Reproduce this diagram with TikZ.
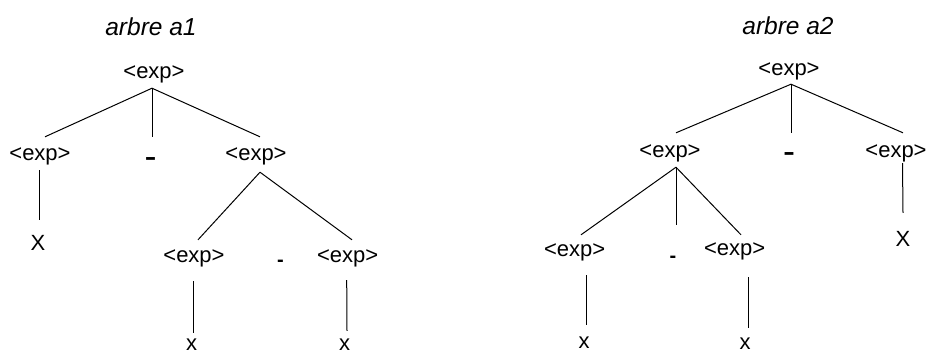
\documentclass[tikz,border=0pt]{standalone}
\usepackage{fontspec}
\setmainfont{Liberation Sans}
\begin{document}
\begin{tikzpicture}[x=1pt,y=-1pt,
  lbl/.style={inner sep=0pt,anchor=base,font=\fontsize{22}{26}\selectfont},
  box/.style 2 args={lbl,text height=#1pt,text depth=#2pt},
  bigdash/.style={inner sep=0pt,anchor=base,text depth=0pt,font=\fontsize{36}{40}\selectfont,text height=#1pt},
  smalldash/.style={inner sep=0pt,anchor=base,font=\fontsize{20}{24}\selectfont\bfseries,text height=#1pt},
  ttl/.style={inner sep=0pt,anchor=base,font=\fontsize{24.5}{28}\selectfont\itshape},
  edge/.style={line width=1pt}]
\useasboundingbox (0,0) rectangle (926,354);
% ---------- arbre a1 ----------
\node[ttl] (t1) at (151,35) {arbre a1};
\node[box={13}{10}] (r1) at (154,78) {<exp>};
\node[box={23.5}{9.5}] (l1) at (40,160.5) {<exp>};
\node[bigdash=31.8] (d1) at (150.5,168.8) {-};
\node[box={23.5}{11.5}] (m1) at (256,160.5) {<exp>};
\node[box={30}{0}] (X1) at (38,250) {X};
\node[box={22.5}{18.5}] (ll1) at (194,262.5) {<exp>};
\node[smalldash=10] (e1) at (280.5,266.2) {-};
\node[box={22.5}{17.5}] (rr1) at (347.7,262.5) {<exp>};
\node[box={17}{0}] (x1a) at (191.7,350) {x};
\node[box={19}{0}] (x1b) at (344.7,350) {x};
\draw[edge] ([xshift=-2pt]r1.south) -- ([xshift=5pt]l1.north);
\draw[edge] ([xshift=-2pt]r1.south) -- ([xshift=1.5pt]d1.north);
\draw[edge] ([xshift=-2pt]r1.south) -- ([xshift=4pt]m1.north);
\draw[edge] ([xshift=-1pt]l1.south) -- ([xshift=1pt]X1.north);
\draw[edge] ([xshift=4pt]m1.south) -- ([xshift=4pt]ll1.north);
\draw[edge] ([xshift=4pt]m1.south) -- ([xshift=4.3pt]rr1.north);
\draw[edge] ([xshift=-1pt]ll1.south) -- ([xshift=1.3pt]x1a.north);
\draw[edge] ([xshift=-1pt]rr1.south) -- ([xshift=2.3pt]x1b.north);
% ---------- arbre a2 ----------
\node[ttl] (t2) at (788,34) {arbre a2};
\node[box={13}{9}] (r2) at (789,75) {<exp>};
\node[box={24.5}{9.5}] (l2) at (670,157.5) {<exp>};
\node[bigdash=30.8] (d2) at (789,163.8) {-};
\node[box={24}{6}] (m2) at (896,157) {<exp>};
\node[box={33}{0}] (X2) at (903,246) {X};
\node[box={21}{19}] (ll2) at (574.7,256) {<exp>};
\node[smalldash=37.7] (e2) at (673,262.7) {-};
\node[box={20}{22}] (rr2) at (734.7,255) {<exp>};
\node[box={23}{0}] (x2a) at (584,348) {x};
\node[box={21}{0}] (x2b) at (745,349) {x};
\draw[edge] ([xshift=2pt]r2.south) -- ([xshift=6pt]l2.north);
\draw[edge] ([xshift=2pt]r2.south) -- ([xshift=2pt]d2.north);
\draw[edge] ([xshift=2pt]r2.south) -- ([xshift=7pt]m2.north);
\draw[edge] ([xshift=6.5pt]m2.south) -- ([xshift=0pt]X2.north);
\draw[edge] ([xshift=6pt]l2.south) -- ([xshift=6.3pt]ll2.north);
\draw[edge] ([xshift=6pt]l2.south) -- ([xshift=3pt]e2.north);
\draw[edge] ([xshift=6pt]l2.south) -- ([xshift=6.3pt]rr2.north);
\draw[edge] ([xshift=11.3pt]ll2.south) -- ([xshift=2pt]x2a.north);
\draw[edge] ([xshift=13.3pt]rr2.south) -- ([xshift=3pt]x2b.north);
\end{tikzpicture}
\end{document}
